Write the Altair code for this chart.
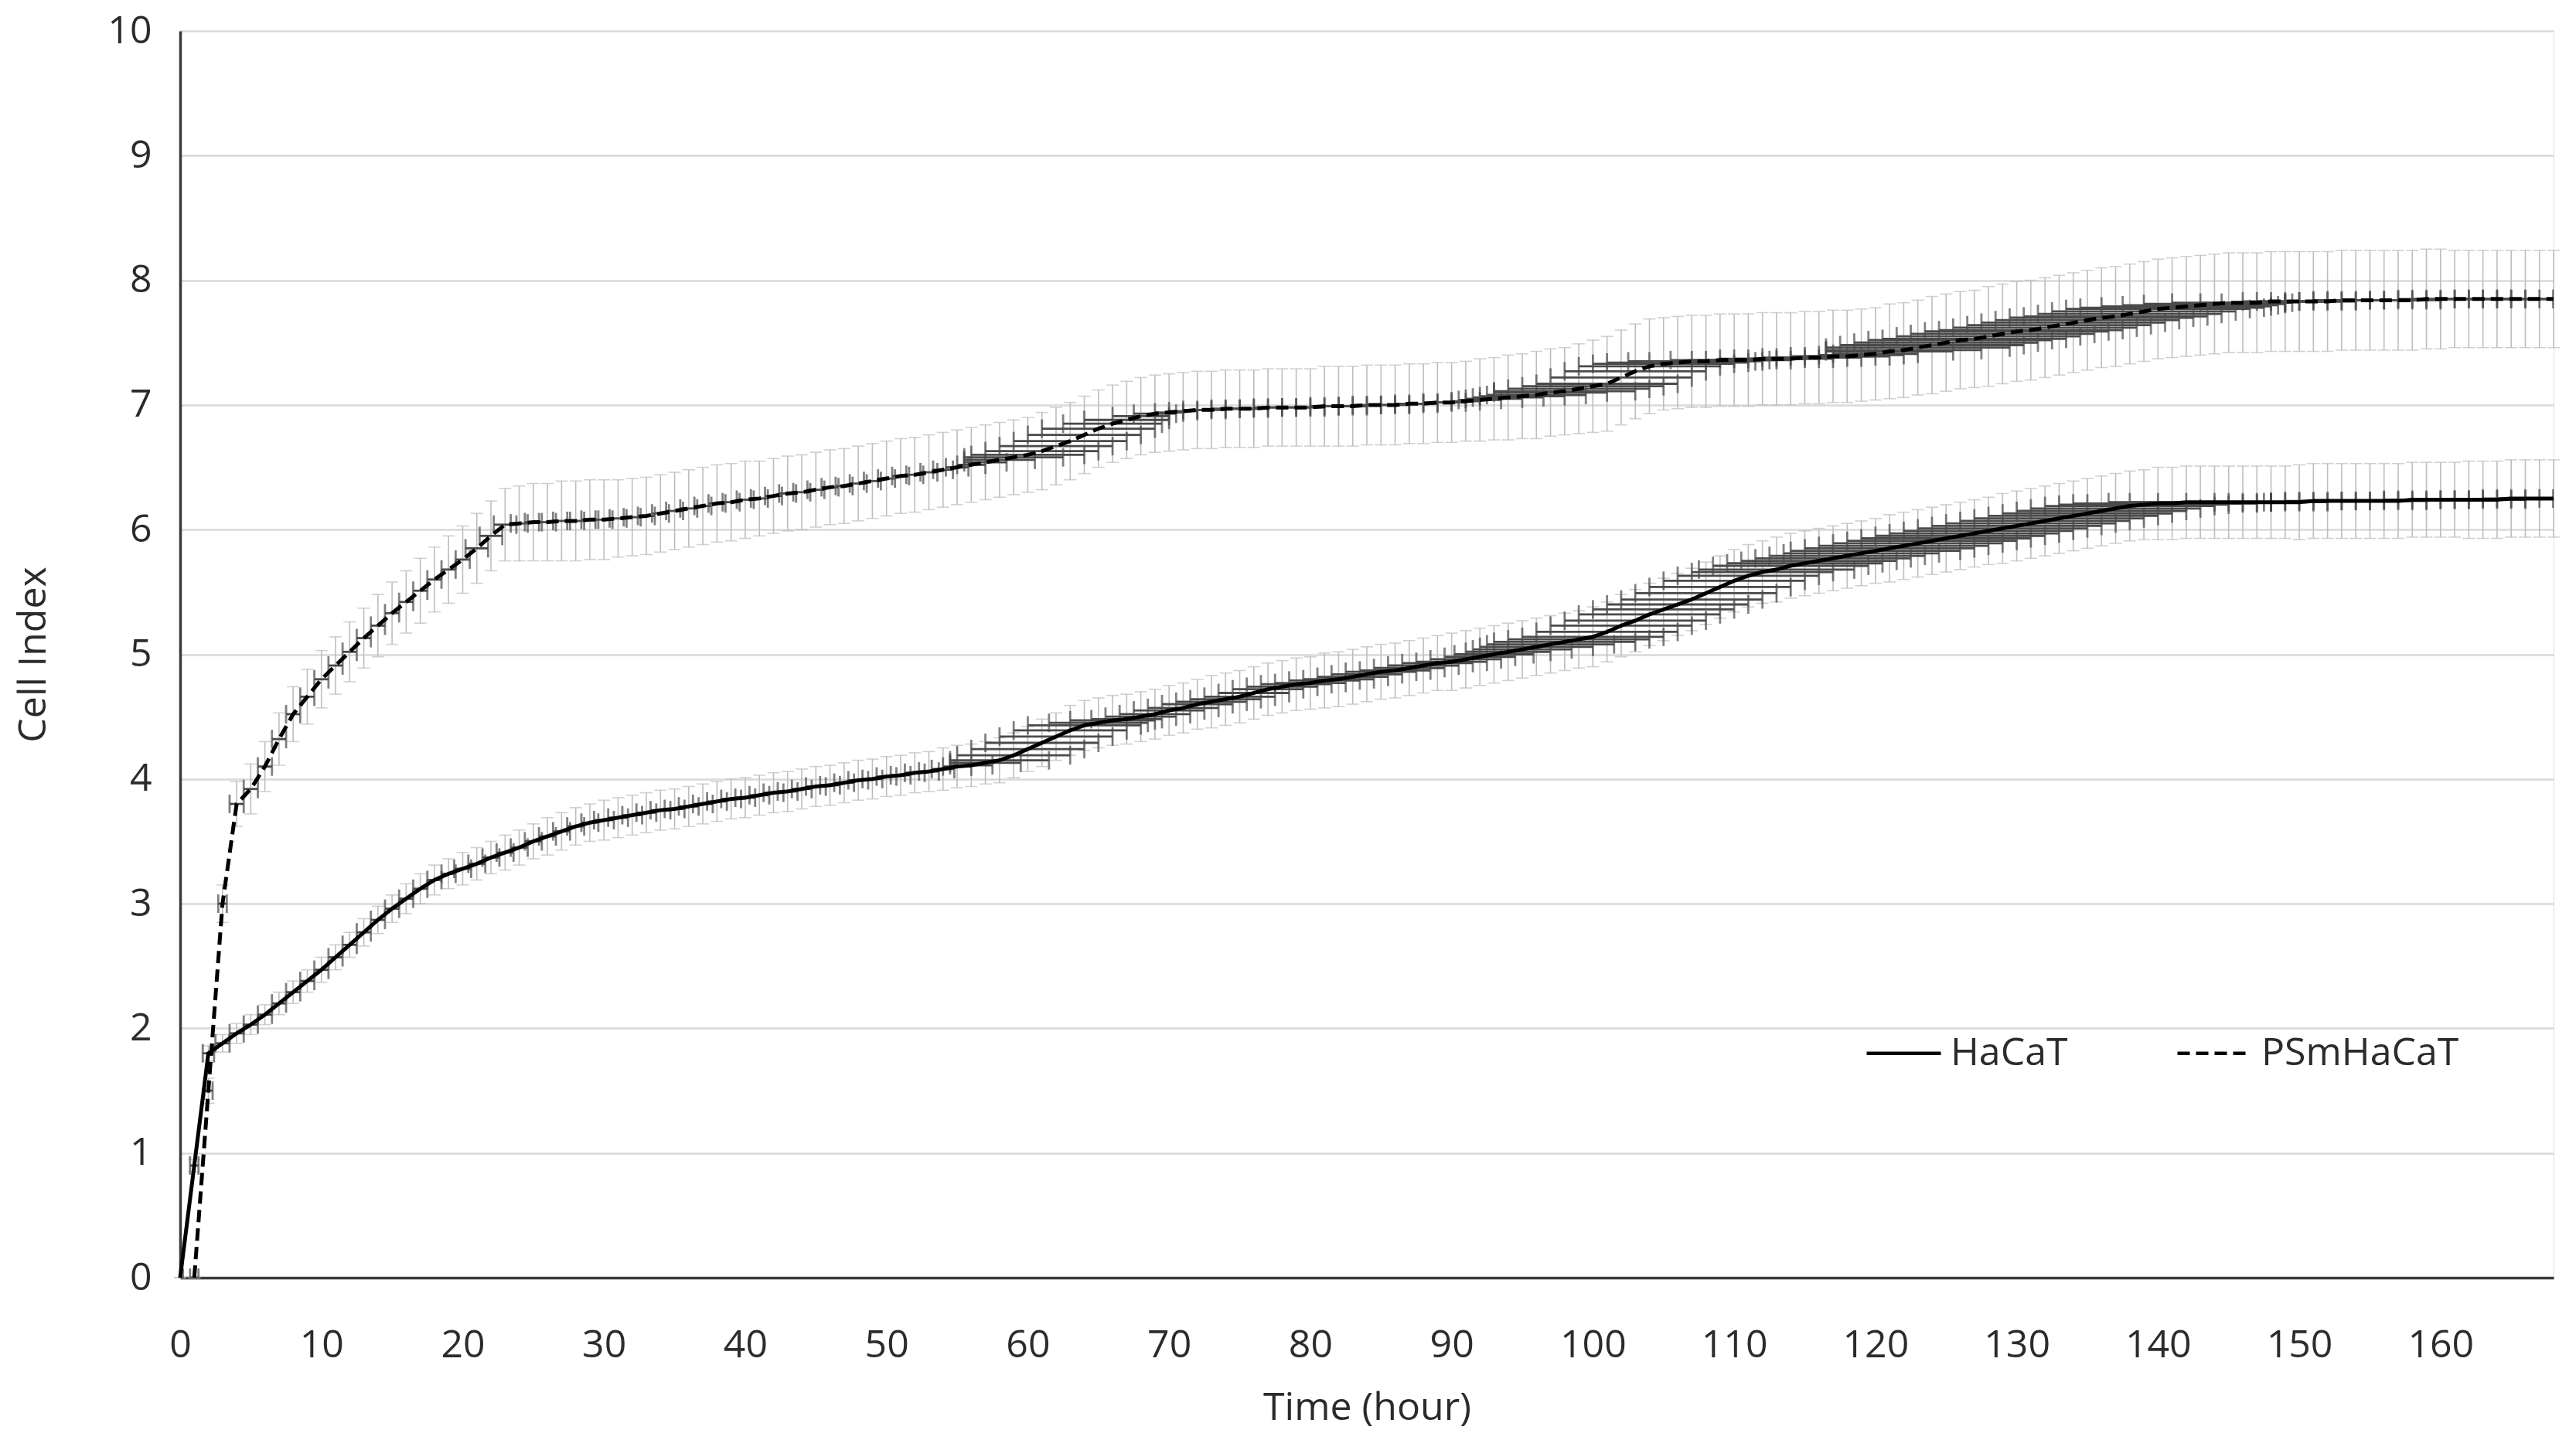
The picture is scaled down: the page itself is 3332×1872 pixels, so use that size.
import altair as alt
import pandas as pd

# ---------------- data ----------------
SERIES = ["HaCaT", "PSmHaCaT"]

HACAT_T = list(range(0, 169))
HACAT_V = [
    0.00, 0.90, 1.80, 1.88, 1.96, 2.03, 2.11, 2.20, 2.29, 2.38,
    2.47, 2.57, 2.67, 2.77, 2.87, 2.96, 3.04, 3.12, 3.19, 3.24,
    3.28, 3.32, 3.37, 3.41, 3.45, 3.50, 3.54, 3.58, 3.62, 3.65,
    3.67, 3.69, 3.71, 3.73, 3.75, 3.76, 3.78, 3.80, 3.82, 3.84,
    3.85, 3.87, 3.89, 3.90, 3.92, 3.94, 3.95, 3.97, 3.99, 4.00,
    4.02, 4.03, 4.05, 4.06, 4.08, 4.10, 4.11, 4.13, 4.15, 4.19,
    4.24, 4.29, 4.34, 4.39, 4.43, 4.45, 4.47, 4.48, 4.50, 4.52,
    4.55, 4.57, 4.60, 4.62, 4.64, 4.66, 4.69, 4.72, 4.74, 4.76,
    4.77, 4.79, 4.80, 4.82, 4.84, 4.86, 4.87, 4.89, 4.91, 4.93,
    4.94, 4.96, 4.98, 5.00, 5.02, 5.04, 5.06, 5.08, 5.10, 5.12,
    5.14, 5.18, 5.23, 5.27, 5.32, 5.36, 5.40, 5.44, 5.49, 5.54,
    5.59, 5.63, 5.66, 5.68, 5.71, 5.73, 5.75, 5.77, 5.79, 5.81,
    5.83, 5.85, 5.87, 5.89, 5.91, 5.93, 5.95, 5.97, 5.99, 6.01,
    6.03, 6.05, 6.07, 6.09, 6.11, 6.13, 6.15, 6.17, 6.19, 6.20,
    6.21, 6.21, 6.22, 6.22, 6.22, 6.22, 6.22, 6.22, 6.22, 6.22,
    6.22, 6.23, 6.23, 6.23, 6.23, 6.23, 6.23, 6.23, 6.24, 6.24,
    6.24, 6.24, 6.24, 6.24, 6.24, 6.25, 6.25, 6.25, 6.25,
]
HACAT_YERR = [
    0.00, 0.05, 0.06, 0.07, 0.08, 0.08, 0.08, 0.09, 0.09, 0.09,
    0.10, 0.10, 0.10, 0.11, 0.11, 0.11, 0.12, 0.12, 0.12, 0.12,
    0.13, 0.13, 0.13, 0.14, 0.14, 0.14, 0.15, 0.15, 0.15, 0.15,
    0.16, 0.16, 0.16, 0.16, 0.16, 0.16, 0.16, 0.16, 0.16, 0.16,
    0.16, 0.16, 0.16, 0.16, 0.16, 0.16, 0.16, 0.16, 0.16, 0.16,
    0.16, 0.16, 0.16, 0.16, 0.17, 0.17, 0.17, 0.17, 0.18, 0.18,
    0.18, 0.19, 0.19, 0.20, 0.20, 0.20, 0.20, 0.20, 0.20, 0.20,
    0.20, 0.20, 0.20, 0.21, 0.21, 0.21, 0.21, 0.21, 0.21, 0.21,
    0.21, 0.22, 0.22, 0.22, 0.22, 0.22, 0.22, 0.22, 0.22, 0.22,
    0.23, 0.23, 0.23, 0.23, 0.23, 0.23, 0.23, 0.23, 0.23, 0.23,
    0.24, 0.24, 0.25, 0.25, 0.25, 0.25, 0.25, 0.25, 0.25, 0.25,
    0.25, 0.25, 0.25, 0.26, 0.26, 0.26, 0.26, 0.26, 0.26, 0.26,
    0.26, 0.27, 0.27, 0.27, 0.27, 0.27, 0.27, 0.27, 0.27, 0.28,
    0.28, 0.28, 0.28, 0.28, 0.28, 0.28, 0.28, 0.28, 0.28, 0.28,
    0.29, 0.29, 0.29, 0.29, 0.29, 0.29, 0.29, 0.29, 0.29, 0.29,
    0.30, 0.30, 0.30, 0.30, 0.30, 0.30, 0.30, 0.30, 0.30, 0.30,
    0.30, 0.30, 0.31, 0.31, 0.31, 0.31, 0.31, 0.31, 0.31,
]
HACAT_XERR = [
    0.2, 0.3, 0.4, 0.5, 0.5, 0.5, 0.5, 0.5, 0.5, 0.5,
    0.5, 0.5, 0.5, 0.5, 0.5, 0.5, 0.5, 0.5, 0.5, 0.5,
    0.6, 0.6, 0.6, 0.6, 0.6, 0.6, 0.6, 0.6, 0.6, 0.6,
    0.7, 0.7, 0.7, 0.7, 0.7, 0.7, 0.7, 0.7, 0.7, 0.7,
    0.7, 0.7, 0.7, 0.7, 0.7, 0.7, 0.7, 0.7, 0.7, 0.7,
    0.7, 0.7, 0.7, 0.7, 0.8, 1.0, 1.5, 2.5, 3.5, 4.0,
    4.0, 4.0, 4.0, 4.0, 4.0, 3.5, 3.0, 2.5, 2.5, 2.5,
    2.5, 2.5, 2.5, 2.5, 2.5, 2.5, 2.5, 2.5, 2.5, 2.5,
    2.5, 2.5, 2.5, 2.5, 2.5, 2.5, 2.5, 2.5, 2.5, 2.5,
    2.5, 2.5, 2.5, 2.8, 3.0, 3.5, 4.0, 4.5, 5.0, 5.0,
    5.0, 5.0, 5.0, 5.0, 5.0, 5.0, 5.0, 5.0, 5.0, 5.0,
    5.0, 5.0, 5.0, 5.5, 5.5, 5.5, 5.5, 5.5, 5.5, 5.5,
    6.0, 6.0, 6.0, 6.0, 6.0, 6.0, 6.0, 6.0, 6.0, 6.0,
    6.0, 6.0, 6.0, 6.0, 6.0, 6.0, 6.0, 6.0, 6.0, 6.0,
    6.0, 6.0, 5.5, 5.0, 4.0, 3.0, 2.0, 2.0, 2.0, 2.0,
    2.0, 2.0, 2.0, 2.0, 2.0, 2.0, 2.0, 2.0, 2.0, 2.0,
    2.0, 2.0, 2.0, 2.0, 2.0, 2.0, 2.0, 2.0, 2.0,
]

PSM_T = list(range(1, 169))
PSM_V = [
    0.00, 1.50, 3.00, 3.80, 3.92, 4.10, 4.32, 4.52, 4.66, 4.80,
    4.91, 5.02, 5.13, 5.23, 5.33, 5.42, 5.51, 5.60, 5.68, 5.76,
    5.85, 5.95, 6.04, 6.05, 6.06, 6.06, 6.07, 6.07, 6.08, 6.08,
    6.09, 6.10, 6.11, 6.13, 6.15, 6.17, 6.19, 6.21, 6.22, 6.24,
    6.25, 6.27, 6.29, 6.30, 6.32, 6.34, 6.35, 6.37, 6.39, 6.41,
    6.43, 6.44, 6.46, 6.48, 6.50, 6.52, 6.54, 6.56, 6.58, 6.60,
    6.63, 6.67, 6.71, 6.76, 6.81, 6.85, 6.88, 6.91, 6.93, 6.94,
    6.95, 6.96, 6.96, 6.97, 6.97, 6.97, 6.98, 6.98, 6.98, 6.98,
    6.99, 6.99, 6.99, 7.00, 7.00, 7.00, 7.01, 7.01, 7.02, 7.02,
    7.03, 7.04, 7.05, 7.06, 7.07, 7.08, 7.10, 7.11, 7.13, 7.15,
    7.17, 7.22, 7.27, 7.31, 7.33, 7.34, 7.35, 7.35, 7.36, 7.36,
    7.36, 7.37, 7.37, 7.37, 7.38, 7.38, 7.39, 7.39, 7.40, 7.41,
    7.43, 7.44, 7.46, 7.48, 7.50, 7.52, 7.53, 7.55, 7.57, 7.59,
    7.60, 7.62, 7.64, 7.66, 7.68, 7.70, 7.71, 7.73, 7.75, 7.77,
    7.78, 7.79, 7.80, 7.81, 7.82, 7.82, 7.82, 7.83, 7.83, 7.83,
    7.83, 7.83, 7.84, 7.84, 7.84, 7.84, 7.84, 7.84, 7.85, 7.85,
    7.85, 7.85, 7.85, 7.85, 7.85, 7.85, 7.85, 7.85,
]
PSM_YERR = [
    0.00, 0.10, 0.15, 0.18, 0.20, 0.20, 0.21, 0.22, 0.22, 0.23,
    0.23, 0.24, 0.24, 0.25, 0.25, 0.25, 0.26, 0.26, 0.27, 0.27,
    0.28, 0.28, 0.29, 0.30, 0.31, 0.31, 0.32, 0.32, 0.32, 0.32,
    0.31, 0.31, 0.31, 0.31, 0.31, 0.31, 0.31, 0.31, 0.31, 0.31,
    0.30, 0.30, 0.30, 0.30, 0.30, 0.30, 0.30, 0.30, 0.30, 0.30,
    0.30, 0.30, 0.30, 0.30, 0.30, 0.30, 0.30, 0.30, 0.30, 0.30,
    0.31, 0.31, 0.31, 0.31, 0.31, 0.31, 0.31, 0.31, 0.31, 0.31,
    0.31, 0.31, 0.31, 0.31, 0.31, 0.31, 0.31, 0.31, 0.31, 0.31,
    0.32, 0.32, 0.32, 0.32, 0.32, 0.32, 0.32, 0.32, 0.32, 0.32,
    0.32, 0.33, 0.33, 0.34, 0.34, 0.35, 0.35, 0.35, 0.36, 0.37,
    0.38, 0.38, 0.38, 0.38, 0.37, 0.37, 0.37, 0.37, 0.37, 0.37,
    0.37, 0.37, 0.37, 0.37, 0.37, 0.37, 0.37, 0.37, 0.37, 0.37,
    0.38, 0.38, 0.38, 0.39, 0.39, 0.39, 0.39, 0.40, 0.40, 0.40,
    0.40, 0.40, 0.40, 0.40, 0.40, 0.40, 0.40, 0.40, 0.40, 0.40,
    0.40, 0.40, 0.40, 0.40, 0.40, 0.40, 0.40, 0.40, 0.40, 0.40,
    0.40, 0.40, 0.40, 0.40, 0.40, 0.40, 0.40, 0.40, 0.40, 0.40,
    0.39, 0.39, 0.39, 0.39, 0.39, 0.39, 0.39, 0.39,
]
PSM_XERR = [
    0.3, 0.3, 0.3, 0.5, 0.5, 0.5, 0.5, 0.5, 0.5, 0.5,
    0.5, 0.5, 0.5, 0.5, 0.5, 0.5, 0.5, 0.5, 0.5, 0.5,
    0.8, 0.8, 0.8, 0.6, 0.6, 0.6, 0.6, 0.6, 0.6, 0.6,
    0.6, 0.6, 0.6, 0.6, 0.6, 0.6, 0.6, 0.6, 0.6, 0.6,
    0.6, 0.6, 0.6, 0.6, 0.6, 0.6, 0.6, 0.6, 0.6, 0.6,
    0.6, 0.6, 0.6, 0.7, 0.8, 1.0, 1.5, 2.5, 3.5, 4.0,
    4.0, 4.0, 4.0, 4.0, 4.0, 3.5, 3.0, 2.0, 1.5, 1.0,
    1.0, 1.0, 1.0, 1.0, 1.0, 1.0, 1.0, 1.0, 1.0, 1.0,
    1.0, 1.0, 1.0, 1.0, 1.0, 1.0, 1.0, 1.0, 1.0, 1.0,
    1.0, 1.5, 2.0, 2.5, 3.0, 3.5, 4.0, 5.0, 5.0, 5.0,
    5.0, 5.0, 5.0, 5.0, 5.0, 5.0, 4.5, 4.0, 3.5, 3.0,
    3.0, 3.0, 3.0, 3.0, 3.0, 3.0, 3.0, 3.0, 3.0, 3.0,
    4.5, 5.5, 6.5, 6.5, 6.5, 6.5, 6.5, 6.5, 6.5, 6.5,
    6.5, 6.5, 6.5, 6.5, 6.5, 6.5, 6.5, 6.5, 6.5, 6.5,
    6.5, 6.0, 5.5, 5.0, 4.0, 3.0, 2.5, 2.0, 2.0, 2.0,
    2.0, 2.0, 2.0, 2.0, 2.0, 2.0, 2.0, 2.0, 2.0, 2.0,
    2.0, 2.0, 2.0, 2.0, 2.0, 2.0, 2.0, 2.0,
]

X_TICKS = list(range(0, 161, 10))
Y_TICKS = list(range(0, 11))

# ---------------- table ----------------
rows = []
for name, ts, vs, ye, xe in [
    (SERIES[0], HACAT_T, HACAT_V, HACAT_YERR, HACAT_XERR),
    (SERIES[1], PSM_T, PSM_V, PSM_YERR, PSM_XERR),
]:
    assert len(ts) == len(vs) == len(ye) == len(xe)
    for t, v, a, b in zip(ts, vs, ye, xe):
        rows.append(dict(series=name, t=t, v=v, ylo=v - a, yhi=v + a,
                         xlo=max(0.0, t - b), xhi=min(168.0, t + b)))
df = pd.DataFrame(rows)

FONT = "Open Sans"
TXT = "#2b2b2b"
W, H = 3070, 1613

x_scale = alt.Scale(domain=[0, 168], nice=False, zero=False)
y_scale = alt.Scale(domain=[0, 10], nice=False)

x_axis = alt.Axis(
    title="Time (hour)", values=X_TICKS, format="d", grid=False, ticks=False, tickSize=0,
    domainColor="#3a3a3a", domainWidth=3.5,
    labelFont=FONT, labelFontSize=50, labelColor=TXT, labelPadding=62,
    labelFlush=False,
    titleFont=FONT, titleFontSize=50, titleFontWeight="normal", titleColor=TXT,
    titleX=W / 2, titleY=168, titleBaseline="middle", titleAlign="center",
)
y_axis = alt.Axis(
    title="Cell Index", values=Y_TICKS, format="d", grid=True, gridColor="#d9d9d9",
    gridWidth=2.5, ticks=False, tickSize=0, domainColor="#3a3a3a", domainWidth=3.5,
    labelFont=FONT, labelFontSize=50, labelColor=TXT, labelPadding=37,
    titleFont=FONT, titleFontSize=50, titleFontWeight="normal", titleColor=TXT,
    titleX=-190, titleY=H / 2, titleAngle=-90, titleBaseline="middle", titleAlign="center",
)

base = alt.Chart(df)

LIGHT = "#bdbdbd"
DARK = "#4a4a4a"

vbar = base.mark_rule(color=LIGHT, strokeWidth=1.6).encode(
    x=alt.X("t:Q", scale=x_scale, axis=x_axis),
    y=alt.Y("ylo:Q", scale=y_scale, axis=y_axis),
    y2="yhi:Q",
)
vcap_lo = base.mark_tick(orient="horizontal", color=LIGHT, size=16, thickness=1.6).encode(
    x="t:Q", y="ylo:Q")
vcap_hi = base.mark_tick(orient="horizontal", color=LIGHT, size=16, thickness=1.6).encode(
    x="t:Q", y="yhi:Q")

hbar = base.mark_rule(color=DARK, strokeWidth=2.8, clip=True).encode(
    x="xlo:Q", x2="xhi:Q", y="v:Q")
hcap_lo = base.mark_tick(orient="vertical", color=DARK, size=24, thickness=2.8, clip=True).encode(
    x="xlo:Q", y="v:Q")
hcap_hi = base.mark_tick(orient="vertical", color=DARK, size=24, thickness=2.8, clip=True).encode(
    x="xhi:Q", y="v:Q")

line = base.mark_line(color="black", strokeWidth=5).encode(
    x="t:Q",
    y="v:Q",
    strokeDash=alt.StrokeDash(
        "series:N",
        scale=alt.Scale(domain=SERIES, range=[[1, 0], [16, 8]]),
        legend=alt.Legend(
            title=None, orient="none", legendX=2179, legendY=1272,
            direction="horizontal", symbolType="stroke", symbolSize=9216,
            symbolStrokeWidth=4.5, symbolStrokeColor="black",
            labelFont=FONT, labelFontSize=50, labelColor=TXT, labelOffset=10,
            labelLimit=0, columnPadding=132, padding=0,
        ),
    ),
)

chart = alt.layer(vbar, vcap_lo, vcap_hi, hbar, hcap_lo, hcap_hi, line).properties(
    width=W, height=H,
    autosize=alt.AutoSizeParams(type="none"),
    padding={"left": 225, "top": 32, "right": 20, "bottom": 211},
).configure_view(stroke=None).configure(background="white")

chart.save("out.html", embed_options={"renderer": "svg", "actions": False})
